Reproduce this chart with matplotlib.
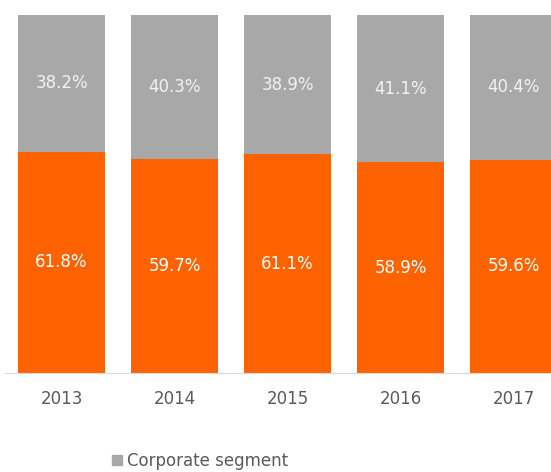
import numpy as np
import matplotlib.pyplot as plt
from matplotlib.patches import Patch

years = ['2013', '2014', '2015', '2016', '2017']
retail = [61.8, 59.7, 61.1, 58.9, 59.6]
corporate = [38.2, 40.3, 38.9, 41.1, 40.4]

orange = '#FF6200'
grey = '#A8A8A8'
text_grey = '#5A5A5A'

fig = plt.figure(figsize=(5.51, 4.72), dpi=100)
ax = fig.add_axes([5 / 551, 99 / 472, 546 / 551, 358 / 472])

x = np.arange(len(years))
w = 0.77
ax.bar(x, retail, width=w, color=orange)
ax.bar(x, corporate, width=w, bottom=retail, color=grey)

for xi, r, c in zip(x, retail, corporate):
    ax.text(xi, r / 2, f'{r:.1f}%', ha='center', va='center', color='white', fontsize=12)
    ax.text(xi, r + c / 2, f'{c:.1f}%', ha='center', va='center', color='#F2F2F2', fontsize=12)

ax.set_xlim(-0.5, -0.5 + 546 / 113)
ax.set_ylim(0, 100)
ax.set_xticks(x)
ax.set_xticklabels(years, fontsize=12, color=text_grey)
ax.tick_params(axis='x', length=0, pad=12)
ax.set_yticks([])
for side in ['top', 'right', 'left']:
    ax.spines[side].set_visible(False)
ax.spines['bottom'].set_color('#D9D9D9')

fig.legend(handles=[Patch(color=grey, label='Corporate segment')],
           loc='center', bbox_to_anchor=(200 / 551, 1 - 461 / 472),
           frameon=False, fontsize=12, handlelength=0.6, handleheight=0.6,
           handletextpad=0.3, labelcolor=text_grey)

fig.savefig('out.png', dpi=100)
